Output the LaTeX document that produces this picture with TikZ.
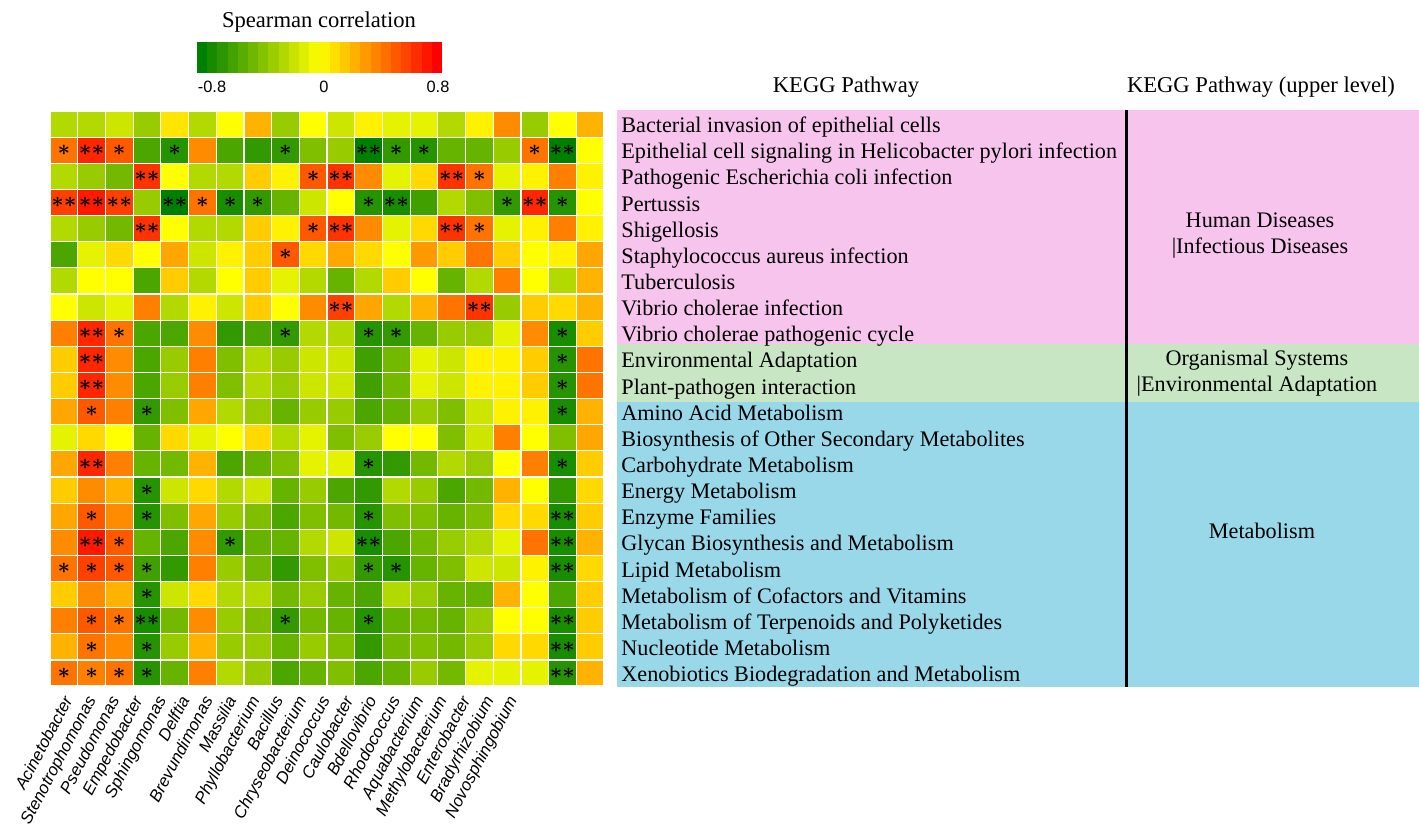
\documentclass[tikz,border=0pt]{standalone}
\usepackage{fontspec}
\setmainfont{Liberation Serif}
\newfontfamily\arialfont{Liberation Sans}
\definecolor{dkgreen}{RGB}{0,128,0}
\definecolor{hmyellow}{RGB}{255,255,0}
\definecolor{hmred}{RGB}{255,0,0}
\definecolor{pinkbg}{RGB}{247,196,237}
\definecolor{greenbg}{RGB}{200,230,196}
\definecolor{bluebg}{RGB}{152,216,233}
\newcommand{\hmcolor}[1]{%
  \ifdim #1pt<0pt
    \pgfmathsetmacro\hmp{100+10*#1}\colorlet{hmc}{hmyellow!\hmp!dkgreen}%
  \else
    \pgfmathsetmacro\hmp{10*#1}\colorlet{hmc}{hmred!\hmp!hmyellow}%
  \fi}
\newcommand{\hmstars}[1]{\ifcase#1\or$\ast$\or${\ast}{\ast}$\fi}
\tikzset{
  hmcell/.style={draw=white,line width=0.6pt,minimum width=13.85pt,minimum height=13.07pt,inner sep=0pt,font=\fontsize{10.5}{11}\selectfont\boldmath},
  genus/.style={rotate=62,inner sep=0pt,font=\arialfont\itshape\fontsize{8.4}{9}\selectfont},
  tick/.style={anchor=base,inner sep=0pt,font=\arialfont\fontsize{8.2}{9}\selectfont},
  pw/.style={anchor=base west,inner sep=0pt,font=\fontsize{11.1}{13}\selectfont},
  head/.style={anchor=base,inner sep=0pt,font=\fontsize{11.3}{13}\selectfont},
  upper/.style={align=center,inner sep=0pt,font=\fontsize{11.1}{13}\selectfont}
}
\begin{document}
\begin{tikzpicture}[x=0.5pt,y=-0.5pt]
\useasboundingbox (0,0) rectangle (1419,829);
% colour key
\node[head] (key) at (319,28) {Spearman correlation};
\foreach \i in {0,...,23}{
  \pgfmathsetmacro\cv{-10+20*\i/23}
  \hmcolor{\cv}
  \fill[hmc] ({197+\i*245/24},42) rectangle ({197+(\i+1)*245/24+0.4},73);
}
\node[tick] (t1) at (212,93) {-0.8};
\node[tick] (t2) at (324,93) {0};
\node[tick] (t3) at (438,93) {0.8};
% heatmap
\foreach \rowdata [count=\r] in {%
{-3/0,-3/0,-2/0,-4/0,1/0,-3/0,0/0,3/0,-4/0,0/0,-2/0,0.5/0,-1/0,-1/0,-3/0,0.5/0,4.5/0,-4/0,0/0,3/0},%
{5.5/1,8.5/2,6.5/1,-7/0,-8.5/1,4.5/0,-7/0,-8/0,-8/1,-5/0,-4/0,-10/2,-8/1,-8.5/1,-6/0,-6/0,-4/0,5.5/1,-10/2,0/0},%
{-3/0,-4/0,-5.5/0,8/2,0/0,-3/0,-3/0,2/0,0.5/0,6.5/1,8/2,4.5/0,-1/0,1.5/0,8/2,5.5/1,-1/0,0.5/0,5/0,0.5/0},%
{7.5/2,9/2,7.5/2,-4/0,-10/2,5.5/1,-9/1,-8/1,-6/0,-2/0,0/0,-8.5/1,-9/2,-7.5/0,-3/0,-5/0,-8/1,8.5/2,-8.5/1,0/0},%
{-3/0,-4/0,-5.5/0,8/2,0/0,-3/0,-3/0,2/0,0.5/0,6.5/1,8/2,4.5/0,-1/0,1.5/0,8/2,5.5/1,-1/0,0.5/0,5/0,0.5/0},%
{-7/0,-1/0,1.5/0,0/0,3.5/0,-2/0,0.5/0,2/0,6.5/1,1.5/0,3.5/0,1.5/0,0/0,4/0,2/0,5.5/0,2/0,0/0,0.5/0,3.5/0},%
{-3/0,0/0,0/0,-7/0,2/0,-3/0,0/0,2/0,-1/0,-3/0,-6/0,-3/0,2/0,0/0,-6/0,-3/0,5/0,0/0,-3/0,3/0},%
{0/0,-2/0,-1/0,5/0,-3/0,0.5/0,-2/0,2/0,0/0,4.5/0,7.5/2,3.5/0,-3/0,3/0,5.5/0,8/2,-4/0,2/0,1.5/0,3/0},%
{5/0,8.5/2,5.5/1,-7/0,-7/0,4.5/0,-8/0,-7/0,-8/1,-3/0,-3/0,-8.5/1,-8/1,-6/0,-4/0,-4/0,-1/0,4.5/0,-9/1,2/0},%
{2/0,8.5/2,4.5/0,-7/0,-4/0,5/0,-5/0,-3/0,-4/0,-2/0,-2/0,-7.5/0,-5.5/0,-1/0,-2/0,0.5/0,0.5/0,2/0,-8.5/1,5.5/0},%
{2/0,8.5/2,4.5/0,-7/0,-4/0,5/0,-5/0,-3/0,-4/0,-2/0,-2/0,-7.5/0,-5.5/0,-1/0,-2/0,0.5/0,0.5/0,2/0,-8.5/1,5.5/0},%
{3.5/0,6.5/1,5/0,-8/1,-5/0,3.5/0,-3/0,-4/0,-6/0,-4/0,-4/0,-7/0,-6/0,-4/0,-5/0,-2/0,0.5/0,0.5/0,-9/1,3/0},%
{-1/0,1.5/0,0/0,-6/0,1.5/0,-1/0,0/0,1.5/0,-3/0,-1/0,-5/0,-4/0,0/0,0/0,-5/0,-2/0,5/0,0/0,-5/0,3.5/0},%
{3.5/0,8.5/2,5/0,-6/0,-5.5/0,3/0,-7/0,-6/0,-5/0,-1/0,-1/0,-8.5/1,-8/0,-5.5/0,-3/0,-4/0,0/0,5/0,-9/1,2/0},%
{2/0,4.5/0,3/0,-8.5/1,-2/0,1.5/0,-3/0,-2/0,-6/0,-4/0,-7/0,-8/0,-3/0,-4/0,-7/0,-5.5/0,3/0,0/0,-8/0,1.5/0},%
{3.5/0,6.5/1,4.5/0,-8.5/1,-5/0,3.5/0,-4/0,-5/0,-7/0,-5/0,-5.5/0,-8.5/1,-5/0,-5/0,-6/0,-5/0,1.5/0,1.5/0,-9/2,2/0},%
{4.5/0,9/2,6.5/1,-6/0,-7/0,4.5/0,-8/1,-6/0,-6/0,-3/0,-2/0,-9/2,-7/0,-5.5/0,-4/0,-3/0,-1/0,5.5/0,-9/2,3/0},%
{5.5/1,7.5/1,6.5/1,-7.5/1,-8/0,5/0,-4/0,-5.5/0,-8/0,-5/0,-4/0,-8/1,-8.5/1,-6/0,-5/0,-2/0,-2/0,0.5/0,-9/2,1.5/0},%
{2/0,4.5/0,3/0,-8.5/1,-2/0,1.5/0,-3/0,-3/0,-5.5/0,-4/0,-6/0,-7/0,-3/0,-4/0,-6/0,-6/0,3/0,0/0,-7/0,2/0},%
{5/0,6.5/1,5.5/1,-9/2,-5.5/0,4.5/0,-4/0,-5/0,-8/1,-5.5/0,-6/0,-8.5/1,-6/0,-5.5/0,-6/0,-4/0,0/0,0/0,-9/2,2/0},%
{3/0,5.5/1,4.5/0,-8.5/1,-4/0,3/0,-4/0,-4/0,-6/0,-4/0,-5/0,-8/0,-5.5/0,-5/0,-5.5/0,-4/0,1.5/0,1.5/0,-9/2,2/0},%
{5.5/1,5/1,5.5/1,-8.5/1,-6/0,5/0,-3/0,-4/0,-7/0,-6/0,-5/0,-7/0,-6/0,-4/0,-5.5/0,-1/0,-1/0,-1/0,-8.5/2,3/0}%
}{
  \foreach \v/\s [count=\c] in \rowdata {
    \hmcolor{\v}
    \node[hmcell,fill=hmc] (c\r-\c) at ({50+(\c-0.5)*27.7},{111+(\r-0.5)*26.14}) {\hmstars{\s}};
  }
}
\foreach \g [count=\c] in {Acinetobacter,Stenotrophomonas,Pseudomonas,Empedobacter,Sphingomonas,Delftia,Brevundimonas,Massilia,Phyllobacterium,Bacillus,Chryseobacterium,Deinococcus,Caulobacter,Bdellovibrio,Rhodococcus,Aquabacterium,Methylobacterium,Enterobacter,Bradyrhizobium,Novosphingobium}
  \node[genus,anchor=north east] (g\c) at ({62+(\c-1)*23.4},694) {\g};
% pathway table
\fill[pinkbg] (617,110) rectangle (1419,344);
\fill[greenbg] (617,344) rectangle (1419,402);
\fill[bluebg] (617,402) rectangle (1419,687);
\draw[line width=1.1pt] (1126.5,110) -- (1126.5,687);
\node[head] (h1) at (846,93) {KEGG Pathway};
\node[head] (h2) at (1261,93) {KEGG Pathway (upper level)};
\foreach \t [count=\r] in {Bacterial invasion of epithelial cells,Epithelial cell signaling in Helicobacter pylori infection,Pathogenic Escherichia coli infection,Pertussis,Shigellosis,Staphylococcus aureus infection,Tuberculosis,Vibrio cholerae infection,Vibrio cholerae pathogenic cycle,Environmental Adaptation,Plant-pathogen interaction,Amino Acid Metabolism,Biosynthesis of Other Secondary Metabolites,Carbohydrate Metabolism,Energy Metabolism,Enzyme Families,Glycan Biosynthesis and Metabolism,Lipid Metabolism,Metabolism of Cofactors and Vitamins,Metabolism of Terpenoids and Polyketides,Nucleotide Metabolism,Xenobiotics Biodegradation and Metabolism}
  \node[pw] (p\r) at (621,{132.7+(\r-1)*26.14}) {\t};
\node[upper] (u1) at (1260,236) {Human Diseases\\|Infectious Diseases};
\node[upper] (u2) at (1257,373) {Organismal Systems\\|Environmental Adaptation};
\node[upper] (u3) at (1262,531) {Metabolism};
\end{tikzpicture}
\end{document}
